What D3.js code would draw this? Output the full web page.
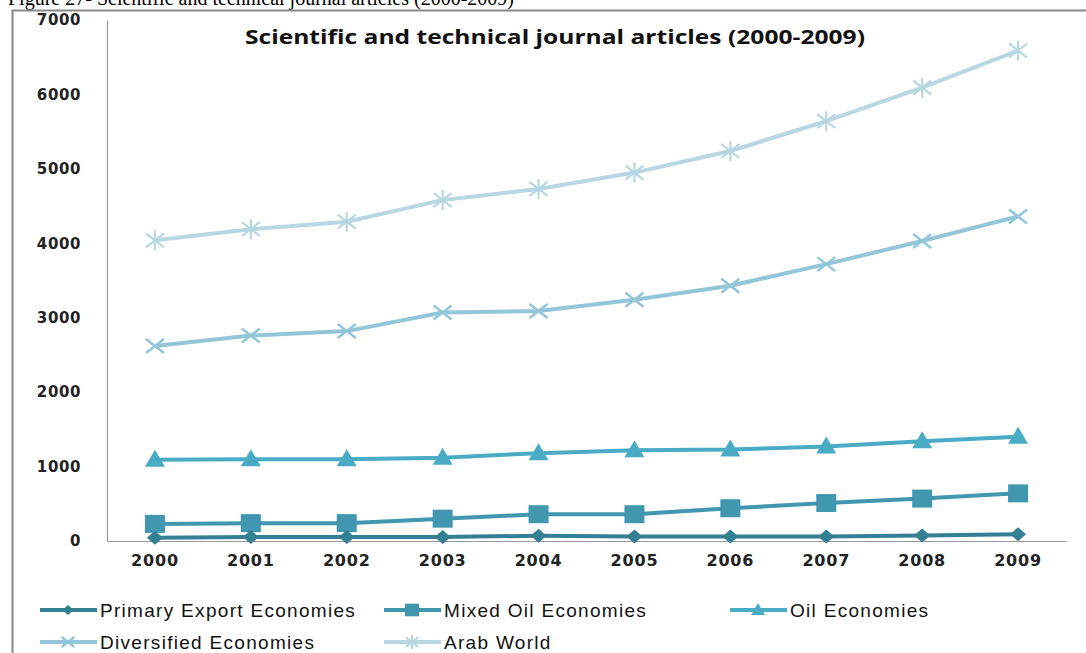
<!DOCTYPE html>
<html lang="en">
<head>
<meta charset="UTF-8">
<title>Scientific and technical journal articles</title>
<script src="https://d3js.org/d3.v7.min.js"></script>
<style>
    body { margin: 0; background: #fff; }
    svg { display: block; }
</style>
</head>
<body>
<div id="chart"></div>
<script>
    // data
    var years = ["2000", "2001", "2002", "2003", "2004", "2005", "2006", "2007", "2008", "2009"];
    var yTicks = [0, 1000, 2000, 3000, 4000, 5000, 6000, 7000];
    var seriesNames = ["Primary Export Economies", "Mixed Oil Economies", "Oil Economies", "Diversified Economies", "Arab World"];
    var primaryExport = [45, 55, 55, 55, 70, 60, 60, 60, 75, 90];
    var mixedOil = [230, 240, 240, 300, 360, 360, 440, 510, 570, 640];
    var oilEcon = [1090, 1100, 1100, 1120, 1180, 1220, 1230, 1270, 1340, 1400];
    var diversified = [2620, 2760, 2820, 3070, 3090, 3240, 3430, 3720, 4030, 4360];
    var arabWorld = [4040, 4190, 4290, 4580, 4730, 4950, 5240, 5640, 6090, 6590];

    var seriesValues = [primaryExport, mixedOil, oilEcon, diversified, arabWorld];
    var colors = ["#337f94", "#4297b0", "#4aabc5", "#93c6d8", "#b8d7e2"];
    var markers = ["diamond", "square", "triangle", "x", "star"];

    var W = 1086, H = 653;
    var svg = d3.select("#chart").append("svg")
        .attr("width", W)
        .attr("height", H);

    // caption above the frame (cut off at the top in the original)
    svg.append("text")
        .attr("x", 8)
        .attr("y", 5)
        .attr("font-family", "Liberation Serif, Times New Roman, serif")
        .attr("font-size", 20)
        .attr("fill", "#000")
        .text("Figure 27- Scientific and technical journal articles (2000-2009)");

    // outer frame
    svg.append("path")
        .attr("d", "M12.5," + H + "V10.5H" + W)
        .attr("fill", "none")
        .attr("stroke", "#888")
        .attr("stroke-width", 2);

    var x = d3.scaleBand().domain(years).range([107, 1066]);
    var y = d3.scaleLinear().domain([0, 7000]).range([541, 20]);
    function cx(i) { return x(years[i]) + x.bandwidth() / 2; }

    // y axis
    var yAxis = svg.append("g")
        .attr("transform", "translate(107,0)")
        .call(d3.axisLeft(y).tickValues(yTicks).tickSize(0).tickPadding(26).tickFormat(d3.format("d")));
    yAxis.select(".domain").attr("stroke", "#999").attr("stroke-width", 1.2);
    yAxis.selectAll("text")
        .attr("font-family", "DejaVu Sans, Verdana, sans-serif")
        .attr("font-weight", "bold")
        .attr("font-size", 15)
        .attr("letter-spacing", 0.6)
        .attr("fill", "#222");

    // x axis
    var xAxis = svg.append("g")
        .attr("transform", "translate(0,541)")
        .call(d3.axisBottom(x).tickSize(0).tickPadding(14));
    xAxis.select(".domain").attr("stroke", "#999").attr("stroke-width", 1.2);
    xAxis.selectAll("text")
        .attr("font-family", "DejaVu Sans, Verdana, sans-serif")
        .attr("font-weight", "bold")
        .attr("font-size", 16)
        .attr("letter-spacing", 0.8)
        .attr("fill", "#222");

    // chart title
    svg.append("text")
        .attr("x", 245)
        .attr("y", 44)
        .attr("textLength", 620)
        .attr("lengthAdjust", "spacingAndGlyphs")
        .attr("font-family", "Open Sans, Noto Sans, sans-serif")
        .attr("font-weight", "bold")
        .attr("font-size", 19)
        .attr("fill", "#111")
        .text("Scientific and technical journal articles (2000-2009)");

    // marker drawing
    function drawMarker(g, type, px, py, color, k) {
        k = k || 1;
        if (type === "diamond") {
            g.append("path").attr("d", "M" + px + "," + (py - 7 * k) + "L" + (px + 8 * k) + "," + py + "L" + px + "," + (py + 7 * k) + "L" + (px - 8 * k) + "," + py + "Z")
                .attr("fill", color);
        } else if (type === "square") {
            g.append("rect").attr("x", px - 10 * k).attr("y", py - 9 * k).attr("width", 20 * k).attr("height", 18 * k)
                .attr("fill", color);
        } else if (type === "triangle") {
            g.append("path").attr("d", "M" + px + "," + (py - 10 * k) + "L" + (px + 10 * k) + "," + (py + 7 * k) + "L" + (px - 10 * k) + "," + (py + 7 * k) + "Z")
                .attr("fill", color);
        } else if (type === "x") {
            g.append("path").attr("d", "M" + (px - 9 * k) + "," + (py - 7 * k) + "L" + (px + 9 * k) + "," + (py + 7 * k) + "M" + (px - 9 * k) + "," + (py + 7 * k) + "L" + (px + 9 * k) + "," + (py - 7 * k))
                .attr("stroke", color).attr("stroke-width", 2.5).attr("fill", "none");
        } else {
            g.append("path").attr("d", "M" + (px - 9 * k) + "," + (py - 7 * k) + "L" + (px + 9 * k) + "," + (py + 7 * k) + "M" + (px - 9 * k) + "," + (py + 7 * k) + "L" + (px + 9 * k) + "," + (py - 7 * k) + "M" + px + "," + (py - 10 * k) + "L" + px + "," + (py + 10 * k))
                .attr("stroke", color).attr("stroke-width", 2.2).attr("fill", "none");
        }
    }

    var line = d3.line()
        .x(function (d, i) { return cx(i); })
        .y(function (d) { return y(d); });

    // draw top series first so the lower ones sit on top
    for (var s = seriesValues.length - 1; s >= 0; s--) {
        var g = svg.append("g");
        g.append("path")
            .datum(seriesValues[s])
            .attr("d", line)
            .attr("fill", "none")
            .attr("stroke", colors[s])
            .attr("stroke-width", 4)
            .attr("stroke-linejoin", "round");
        seriesValues[s].forEach(function (v, i) {
            drawMarker(g, markers[s], cx(i), y(v), colors[s]);
        });
    }

    // legend
    var legendPos = [[40, 610], [384, 610], [730, 610], [40, 642], [384, 642]];
    seriesNames.forEach(function (name, s) {
        var lx = legendPos[s][0], ly = legendPos[s][1];
        var lg = svg.append("g");
        lg.append("line")
            .attr("x1", lx).attr("x2", lx + 57)
            .attr("y1", ly).attr("y2", ly)
            .attr("stroke", colors[s]).attr("stroke-width", 4);
        drawMarker(lg, markers[s], lx + 28, ly, colors[s], 0.7);
        lg.append("text")
            .attr("x", lx + 60)
            .attr("y", ly + 7)
            .attr("font-family", "Liberation Sans, Arial, sans-serif")
            .attr("font-size", 19)
            .attr("letter-spacing", 1.3)
            .attr("fill", "#111")
            .text(name);
    });
</script>
</body>
</html>
